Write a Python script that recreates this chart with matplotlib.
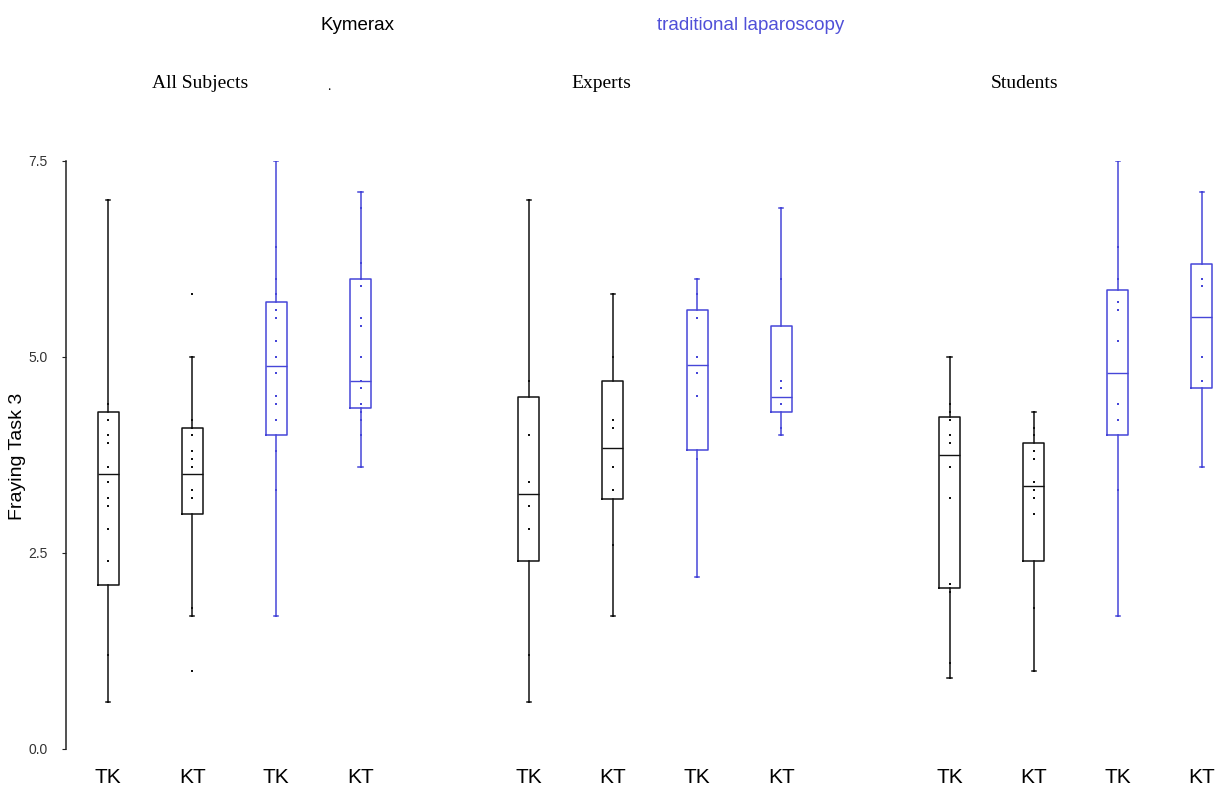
import matplotlib
matplotlib.use("Agg")
import matplotlib.pyplot as plt

# box order: TK, KT (Kymerax) then TK, KT (traditional) for each subject group
groups = ["All Subjects", "Experts", "Students"]
labels = ["TK", "KT", "TK", "KT"] * 3
kinds = ["kym", "kym", "trad", "trad"] * 3

medians = [3.51, 3.51, 4.89, 4.69, 3.25, 3.84, 4.90, 4.49, 3.75, 3.35, 4.80, 5.51]
q1s = [2.09, 3.00, 4.00, 4.35, 2.40, 3.19, 3.81, 4.30, 2.05, 2.40, 4.00, 4.60]
q3s = [4.30, 4.09, 5.70, 6.00, 4.49, 4.69, 5.60, 5.40, 4.24, 3.90, 5.85, 6.19]
whis_lo = [0.60, 1.70, 1.70, 3.60, 0.60, 1.70, 2.20, 4.00, 0.90, 1.00, 1.70, 3.60]
whis_hi = [7.00, 5.00, 7.50, 7.10, 7.00, 5.80, 6.00, 6.90, 5.00, 4.30, 7.50, 7.10]

# individual observations plotted over the boxes
dots = [
    [0.6, 1.2, 2.4, 2.8, 3.1, 3.2, 3.4, 3.6, 3.9, 4.0, 4.2, 4.4, 7.0],
    [1.0, 1.7, 1.8, 3.2, 3.3, 3.6, 3.7, 3.8, 4.0, 4.1, 4.2, 5.0, 5.8],
    [1.7, 3.3, 3.8, 4.2, 4.4, 4.5, 4.8, 5.0, 5.2, 5.5, 5.6, 5.8, 6.0, 6.4, 7.5],
    [3.6, 4.0, 4.2, 4.3, 4.4, 4.6, 4.7, 5.0, 5.4, 5.5, 5.9, 6.0, 6.2, 6.9, 7.1],
    [0.6, 1.2, 2.8, 3.1, 3.4, 4.0, 4.7, 7.0],
    [1.7, 2.6, 3.3, 3.6, 4.1, 4.2, 5.0, 5.8],
    [2.2, 3.7, 4.5, 4.8, 5.0, 5.5, 5.8, 6.0],
    [4.0, 4.1, 4.4, 4.6, 4.7, 6.0, 6.9],
    [0.9, 1.1, 2.0, 2.1, 3.2, 3.6, 3.9, 4.0, 4.2, 4.3, 4.4, 5.0],
    [1.0, 1.8, 3.0, 3.2, 3.3, 3.4, 3.7, 3.8, 4.0, 4.1, 4.3],
    [1.7, 3.3, 4.2, 4.4, 5.2, 5.6, 5.7, 6.0, 6.4, 7.5],
    [3.6, 4.7, 5.0, 5.9, 6.0, 7.1],
]

positions = [0, 1, 2, 3, 5, 6, 7, 8, 10, 11, 12, 13]
colors = {"kym": "#111111", "trad": "#4646d8"}

W, H = 1217, 785
fig = plt.figure(figsize=(W / 100, H / 100), dpi=100)
ax = fig.add_axes([66 / W, 36 / H, 1 - 66 / W, (749 - 161) / H])

for kind in ["kym", "trad"]:
    idx = [i for i, k in enumerate(kinds) if k == kind]
    stats = [dict(med=medians[i], q1=q1s[i], q3=q3s[i],
                  whislo=whis_lo[i], whishi=whis_hi[i], fliers=[]) for i in idx]
    c = colors[kind]
    lp = dict(color=c, linewidth=1.1)
    ax.bxp(stats, positions=[positions[i] for i in idx], widths=0.25,
           capwidths=0.05, showfliers=False, manage_ticks=False,
           boxprops=lp, whiskerprops=lp, capprops=lp,
           medianprops=dict(color=c, linewidth=1.0))
    for i in idx:
        ax.scatter([positions[i]] * len(dots[i]), dots[i], s=1.5, marker="s",
                   color=c, linewidths=0, zorder=3)

ax.set_xlim(-0.5, (W - 108) / 84.15)
ax.set_ylim(0, 7.5)
for s in ["top", "right", "bottom"]:
    ax.spines[s].set_visible(False)
ax.spines["left"].set_linewidth(1.1)
ax.spines["left"].set_color("#222222")

ax.set_yticks([0, 2.5, 5.0, 7.5])
ax.set_yticklabels(["0.0", "2.5", "5.0", "7.5"], fontsize=10, color="#333333",
                   family="Liberation Sans")
ax.tick_params(axis="y", length=3, pad=10, color="#222222")

ax.set_xticks(positions)
ax.set_xticklabels(labels, fontsize=15, family="Liberation Sans")
ax.tick_params(axis="x", length=0, pad=14)

fig.text(18 / W, 1 - 456 / H, "Fraying Task 3", rotation=90, fontsize=14,
         family="Liberation Sans", ha="center", va="center")

fig.text(357 / W, 1 - 25 / H, "Kymerax", fontsize=13.5, family="Liberation Sans",
         ha="center", va="center", color="black")
fig.text(751 / W, 1 - 25 / H, "traditional laparoscopy", fontsize=13.5,
         family="Liberation Sans", ha="center", va="center", color="#5050d8")

for name, x in zip(groups, [200, 601, 1025]):
    fig.text(x / W, 1 - 83 / H, name, fontsize=14, family="Liberation Serif",
             ha="center", va="center")
fig.text(329 / W, 1 - 86 / H, ".", fontsize=10, family="Liberation Serif",
         ha="center", va="center")

fig.savefig("out.png", dpi=100, facecolor="white")
